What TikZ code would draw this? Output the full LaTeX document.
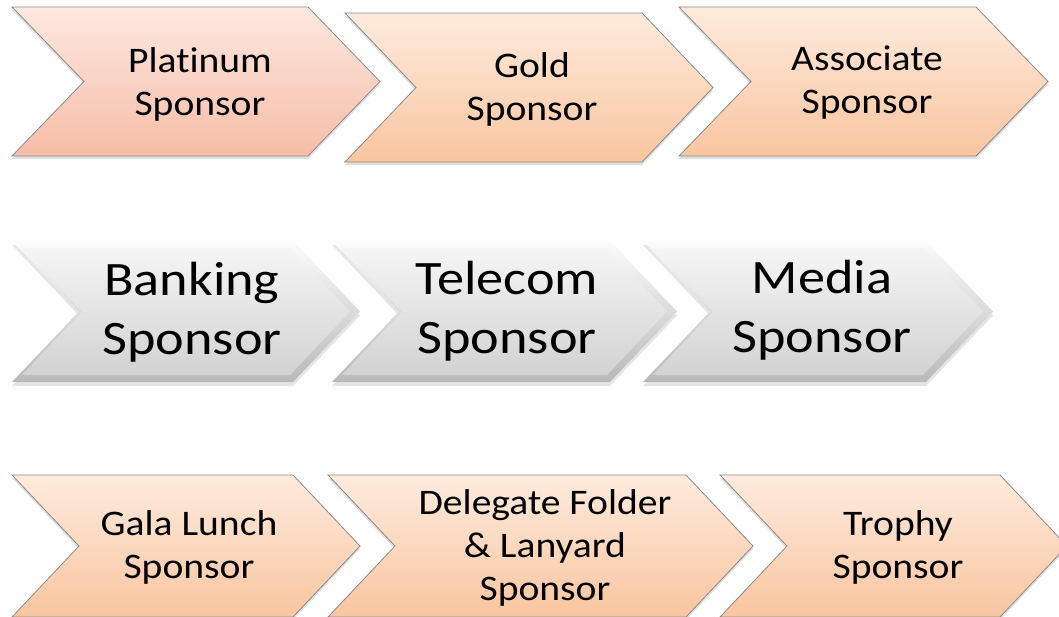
\documentclass[tikz,border=0pt]{standalone}
\usepackage{fontspec}
\setmainfont{Carlito}
\newfontfamily\smallfont[FakeStretch=1.1,Ligatures=NoCommon]{Carlito}
\newfontfamily\bigfont[FakeStretch=1.13,Ligatures=NoCommon]{Carlito}
\usetikzlibrary{shadows}
\definecolor{edgegray}{HTML}{8A8A8A}
\definecolor{pinktop}{HTML}{FDE8E0}
\definecolor{pinkbot}{HTML}{F6BDA7}
\definecolor{peachtop}{HTML}{FEEBDD}
\definecolor{peachbot}{HTML}{F9C5A0}
\definecolor{graytop}{HTML}{FCFCFC}
\definecolor{graybot}{HTML}{B9B9B9}
\definecolor{facetop}{HTML}{F5F5F5}
\definecolor{facebot}{HTML}{D2D2D2}
% #1 left x, #2 top y, #3 tip x, #4 bottom y, #5 point depth, #6 style
\newcommand{\chev}[6]{\path[#6] (#1,#2) -- ({#3-#5},#2) -- (#3,{(#2+#4)/2}) -- ({#3-#5},#4) -- (#1,#4) -- ({#1+#5},{(#2+#4)/2}) -- cycle;}
\begin{document}
\begin{tikzpicture}[x=1pt,y=-1pt,
  peachbox/.style={draw=edgegray,line width=0.8pt,top color=peachtop,bottom color=peachbot,
    drop shadow={opacity=0.25,shadow xshift=0pt,shadow yshift=-3pt}},
  pinkbox/.style={peachbox,top color=pinktop,bottom color=pinkbot},
  greybox/.style={top color=graytop,bottom color=graybot,
    drop shadow={opacity=0.2,shadow xshift=0pt,shadow yshift=-4pt}},
  greyface/.style={top color=facetop,bottom color=facebot},
  smalltext/.style={align=center,font=\smallfont\fontsize{36}{43}\selectfont,inner sep=0pt},
  bigtext/.style={align=center,font=\bigfont\fontsize{48}{59}\selectfont,inner sep=0pt}]
\fill[white] (0,0) rectangle (1059,616);
\useasboundingbox (0,0) rectangle (1059,616);
\clip (0,0) rectangle (1059,616);
% row 1
\chev{12}{7}{380}{156}{72}{pinkbox}
\chev{345}{13}{713}{162}{71}{peachbox}
\chev{679}{7}{1048}{156}{72}{peachbox}
\node[smalltext] (platinum) at (200,84) {Platinum\\Sponsor};
\node[smalltext] (gold) at (532,89) {Gold\\Sponsor};
\node[smalltext] (associate) at (867,83) {Associate\\Sponsor};
% row 2
\chev{12}{241}{360}{382}{67}{greybox}
\chev{332}{241}{677}{382}{67}{greybox}
\chev{643}{241}{993}{382}{67}{greybox}
\chev{22}{248}{350}{375}{60}{greyface}
\chev{342}{248}{667}{375}{60}{greyface}
\chev{653}{248}{983}{375}{60}{greyface}
\node[bigtext] (banking) at (192,312) {Banking\\Sponsor};
\node[bigtext] (telecom) at (507,311) {Telecom\\Sponsor};
\node[bigtext] (media) at (822,310) {Media\\Sponsor};
% row 3
\chev{12}{475}{360}{617}{67}{peachbox}
\chev{328}{475}{753}{617}{67}{peachbox}
\chev{720}{475}{1067}{617}{67}{peachbox}
\node[smalltext] (gala) at (189,547) {Gala Lunch\\Sponsor};
\node[smalltext] (delegate) at (545,548) {Delegate Folder\\\& Lanyard\\Sponsor};
\node[smalltext] (trophy) at (898,547) {Trophy\\Sponsor};
\end{tikzpicture}
\end{document}
